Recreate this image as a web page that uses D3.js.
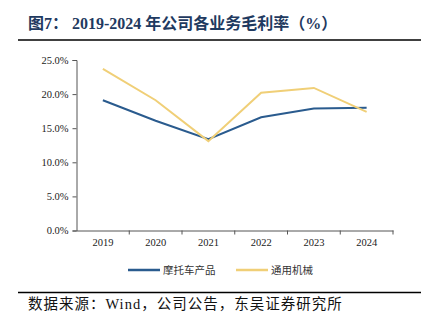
<!DOCTYPE html>
<html>
<head>
<meta charset="utf-8">
<script src="https://cdn.jsdelivr.net/npm/d3@7"></script>
<style>
  body { margin: 0; background: #fff; }
  text { font-family: "Liberation Serif", "Noto Sans CJK SC", serif; }
</style>
</head>
<body>
<div id="chart"></div>
<script>
// data
const years = ["2019", "2020", "2021", "2022", "2023", "2024"];
const motoMargin = [19.1, 16.1, 13.4, 16.6, 17.9, 18.0];
const machineryMargin = [23.7, 19.1, 13.1, 20.2, 20.9, 17.4];
const yTicks = [0, 5, 10, 15, 20, 25];
const seriesNames = ["摩托车产品", "通用机械"];
const seriesColors = ["#2a5b8e", "#f0cf77"];

const width = 426, height = 330;
const svg = d3.select("#chart").append("svg")
    .attr("width", width)
    .attr("height", height);

// title + rules
svg.append("text")
    .attr("x", 28)
    .attr("y", 29)
    .attr("font-size", 16)
    .attr("font-weight", "bold")
    .attr("fill", "#1f3a60")
    .style("white-space", "pre")
    .text("图7： 2019-2024 年公司各业务毛利率（%）");

svg.append("line")
    .attr("x1", 18).attr("x2", 421)
    .attr("y1", 40).attr("y2", 40)
    .attr("stroke", "#000").attr("stroke-width", 1.5);

svg.append("line")
    .attr("x1", 18).attr("x2", 421)
    .attr("y1", 292.5).attr("y2", 292.5)
    .attr("stroke", "#000").attr("stroke-width", 1.5);

svg.append("text")
    .attr("x", 28)
    .attr("y", 309)
    .attr("font-size", 14.5)
    .attr("letter-spacing", 1)
    .attr("fill", "#111")
    .text("数据来源：Wind，公司公告，东吴证券研究所");

// scales
const x = d3.scaleBand().domain(years).range([76.5, 393]);
const y = d3.scaleLinear().domain([0, 25]).range([230.5, 60]);

const xAxis = svg.append("g")
    .attr("transform", `translate(0,${y(0)})`)
    .call(d3.axisBottom(x).tickSize(0).tickPadding(8));
// ticks at band boundaries
xAxis.selectAll(".boundary")
    .data(years)
    .enter().append("line")
    .attr("x1", (d, i) => x.range()[0] + x.step() * (i + 1))
    .attr("x2", (d, i) => x.range()[0] + x.step() * (i + 1))
    .attr("y1", 0).attr("y2", 4)
    .attr("stroke", "#555");

const yAxis = svg.append("g")
    .attr("transform", `translate(${x.range()[0]},0)`)
    .call(d3.axisLeft(y).tickValues(yTicks).tickSize(4).tickPadding(4)
        .tickFormat(d => d.toFixed(1) + "%"));

[xAxis, yAxis].forEach(g => {
    g.select(".domain").attr("stroke", "#555");
    g.selectAll(".tick line").attr("stroke", "#555");
    g.selectAll("text")
        .attr("font-family", "Liberation Serif")
        .attr("font-size", 10.5)
        .attr("fill", "#222");
});

// lines
const line = d3.line()
    .x((d, i) => x(years[i]) + x.bandwidth() / 2)
    .y(d => y(d));

[motoMargin, machineryMargin].forEach((vals, k) => {
    svg.append("path")
        .datum(vals)
        .attr("fill", "none")
        .attr("stroke", seriesColors[k])
        .attr("stroke-width", 2)
        .attr("d", line);
});

// legend
const legendX = [128, 236];
seriesNames.forEach((name, k) => {
    const g = svg.append("g").attr("transform", `translate(${legendX[k]},270)`);
    g.append("line")
        .attr("x1", 0).attr("x2", 32)
        .attr("stroke", seriesColors[k])
        .attr("stroke-width", 2.5);
    g.append("text")
        .attr("x", 35)
        .attr("y", 4)
        .attr("font-size", 10.5)
        .attr("fill", "#333")
        .text(name);
});
</script>
</body>
</html>
